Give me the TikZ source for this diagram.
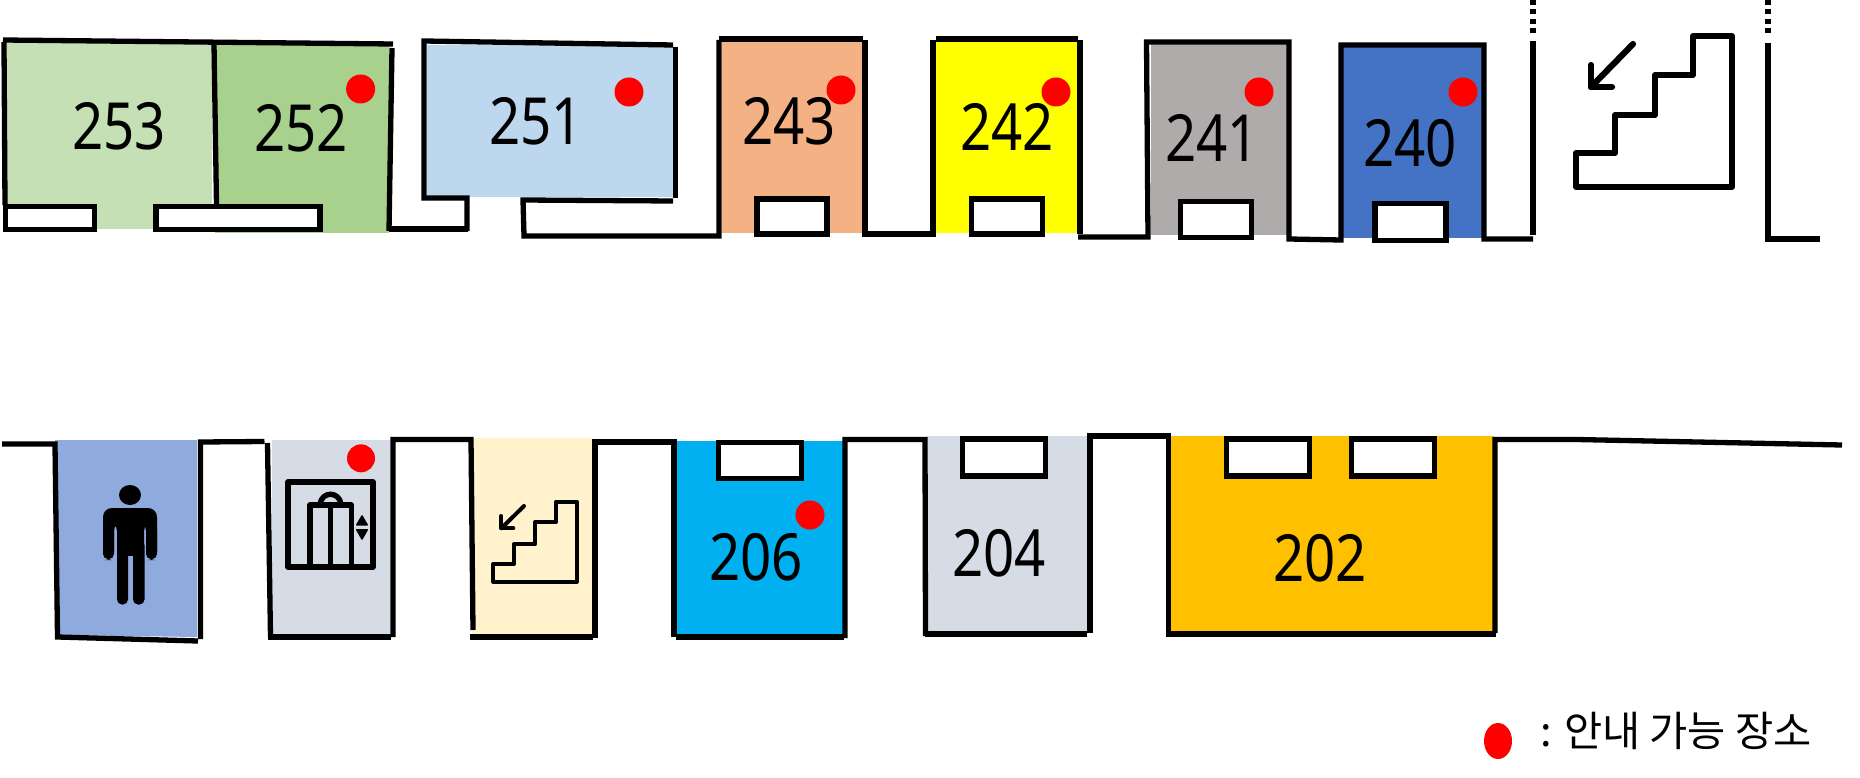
\documentclass[tikz,border=0pt]{standalone}
\usepackage{fontspec}
\setmainfont[FakeStretch=0.84]{Noto Sans}
\newfontfamily\krfont{Noto Sans CJK KR}
\definecolor{c253}{HTML}{C5E0B4}
\definecolor{c252}{HTML}{A9D18E}
\definecolor{c251}{HTML}{BDD7EE}
\definecolor{c243}{HTML}{F4B183}
\definecolor{c242}{HTML}{FFFF00}
\definecolor{c241}{HTML}{AFABAB}
\definecolor{c240}{HTML}{4472C4}
\definecolor{cman}{HTML}{8FAADC}
\definecolor{cgrey}{HTML}{D6DCE5}
\definecolor{cstair}{HTML}{FFF2CC}
\definecolor{c206}{HTML}{00B0F0}
\definecolor{c202}{HTML}{FFC000}
\definecolor{cspot}{HTML}{FF0000}
\tikzset{
  wall/.style={draw=black,line width=5.3pt},
  win/.style={draw=black,fill=white,line width=5.3pt},
  icon/.style={draw=black,line width=6.2pt,line join=round,line cap=round},
  iconsmall/.style={draw=black,line width=4pt,line join=round,line cap=round},
  iconel/.style={draw=black,line width=5.4pt,line join=round},
  room/.style={inner sep=0pt,font=\fontsize{65}{65}\selectfont},
  spot/.style={fill=cspot,draw=none}
}
\begin{document}
\begin{tikzpicture}[x=1pt,y=-1pt]
\useasboundingbox (0,0) rectangle (1860,778);
% room fills
\fill[c253] (3,40) rectangle (212,229);
\fill[c252] (215,42) rectangle (389,233);
\fill[c251] (427,45) rectangle (674,197);
\fill[c243] (722,41) rectangle (862,233);
\fill[c242] (936,41) rectangle (1078,233);
\fill[c241] (1151,44) rectangle (1288,235);
\fill[c240] (1343,47) rectangle (1483,238);
\fill[cman] (55,440) -- (197,440) -- (197,637) -- (58,635) -- cycle;
\fill[cgrey] (272,440) rectangle (390,636);
\fill[cstair] (472,438) rectangle (594,638);
\fill[c206] (676,441) rectangle (843,638);
\fill[cgrey] (927,436) rectangle (1088,634);
\fill[c202] (1170,436) rectangle (1494,633);
% upper walls
\draw[wall] (3,40) -- (393,44);
\draw[wall] (4,42) -- (5,205);
\draw[wall] (214,44) -- (216.5,205);
\draw[wall] (392,48) -- (389,231);
\draw[wall] (389,229) -- (468,229);
\draw[wall] (467,231) -- (467,198) -- (424,198) -- (424,41) -- (673,45);
\draw[wall] (675.5,47) -- (675.5,198);
\draw[wall] (673,201) -- (523,200) -- (524,236) -- (719,236) -- (719,40);
\draw[wall] (719,39) -- (863,39);
\draw[wall] (865,40) -- (865,234) -- (933,234) -- (933,40);
\draw[wall] (936,39) -- (1078,39);
\draw[wall] (1080,40) -- (1080,234);
\draw[wall] (1078,237) -- (1148,237) -- (1146.5,42) -- (1289,42) -- (1289,239) -- (1341,240) -- (1341,45) -- (1484,45) -- (1484,239) -- (1533,239);
\draw[wall] (1533,235) -- (1533,41);
\draw[wall,dash pattern=on 5pt off 4.4pt] (1533,0) -- (1533,35);
\draw[wall,dash pattern=on 5pt off 4.4pt] (1768,0) -- (1768,35);
\draw[wall] (1768,43) -- (1768,239) -- (1820,239);
% upper windows
\draw[win] (5.5,206.5) rectangle (94.5,229.5);
\draw[win] (156,206.5) rectangle (320,229.5);
\draw[win] (757,199) rectangle (827,234);
\draw[win] (971.5,199) rectangle (1042.5,234);
\draw[win] (1180.5,201.5) rectangle (1251.5,237.5);
\draw[win] (1375,203.5) rectangle (1446,240.5);
% lower walls
\draw[wall] (2,444) -- (55,444) -- (57.5,637) -- (198,641);
\draw[wall] (200.5,639) -- (200.5,442) -- (264.5,441.5);
\draw[wall] (267.5,443) -- (270.5,637);
\draw[wall] (267.5,637) -- (391,637);
\draw[wall] (393,637) -- (393,439.5) -- (471,439.5) -- (473,630);
\draw[wall] (470,637) -- (593,637);
\draw[wall] (595,638) -- (595,442) -- (674,442) -- (674,637);
\draw[wall] (676,637) -- (844,637);
\draw[wall] (845,638) -- (845,439.5) -- (925,439.5) -- (925.5,636);
\draw[wall] (925,634) -- (1087,634);
\draw[wall] (1090,633) -- (1090,436) -- (1168.5,436) -- (1168.5,631);
\draw[wall] (1165.5,634) -- (1496,634);
\draw[wall] (1495,633) -- (1495,439.5) -- (1576.5,439.5) -- (1842,445);
% lower windows
\draw[win] (718.5,442.5) rectangle (801.5,478.5);
\draw[win] (962.5,439) rectangle (1045.5,476);
\draw[win] (1226.5,439) rectangle (1309.5,476);
\draw[win] (1351.5,439) rectangle (1434.5,476);
% large stairs
\draw[icon] (1576,153) -- (1615,153) -- (1615,115) -- (1655,115) -- (1655,75) -- (1693,75) -- (1693,36) -- (1732,36) -- (1732,187) -- (1576,187) -- cycle;
\draw[icon] (1633,44) -- (1591,87);
\draw[icon] (1591,65) -- (1591,87) -- (1612,87);
% small stairs
\draw[iconsmall] (493.3,564) -- (514,564) -- (514,544) -- (535.3,544) -- (535.3,522) -- (556,522) -- (556,501.7) -- (576.7,501.7) -- (576.7,581.7) -- (493.3,581.7) -- cycle;
\draw[iconsmall] (524,506) -- (501.3,528.3);
\draw[iconsmall] (501.3,516) -- (501.3,528.3) -- (513.3,528.3);
% man
\fill (130,495) ellipse [x radius=11, y radius=10];
\fill[rounded corners=9pt] (103,560) -- (103,508) -- (157,508) -- (157,560) -- (146,560) -- (146,522) -- (144,522) -- (144,553) -- (117,553) -- (117,522) -- (114,522) -- (114,560) -- cycle;
\fill (117,515) rectangle (144,556);
\fill[rounded corners=5pt] (117,540) rectangle (128,604.5);
\fill[rounded corners=5pt] (133,540) rectangle (144.5,604.5);
\fill[rounded corners=5pt] (103,525) rectangle (114,559);
\fill[rounded corners=5pt] (146,525) rectangle (157,559);
% elevator
\draw[iconel] (288,482) rectangle (373,567);
\draw[iconel] (310,567) -- (310,505) -- (351.3,505) -- (351.3,567);
\draw[iconel] (330.3,505) -- (330.3,567);
\draw[iconel] (320,504) .. controls (322,491) and (339,491) .. (341,504);
\fill[rounded corners=1pt] (362,514.5) -- (368.5,525.6) -- (355.5,525.6) -- cycle;
\fill[rounded corners=1pt] (362,540.5) -- (368.5,529) -- (355.5,529) -- cycle;
% spots
\fill[spot] (360.6,89) circle (14.5);
\fill[spot] (629,92) circle (14.5);
\fill[spot] (841,90) circle (14.5);
\fill[spot] (1056,92) circle (14.5);
\fill[spot] (1259,92) circle (14.5);
\fill[spot] (1463,92) circle (14.5);
\fill[spot] (361,458.3) circle (14);
\fill[spot] (810,515) circle (14.5);
\fill[spot] (1498,741) ellipse [x radius=14, y radius=18];
% labels
\node[room] (r253) at (119,126) {253};
\node[room] (r252) at (301,128) {252};
\node[room] (r251) at (536,121) {251};
\node[room] (r243) at (789,121) {243};
\node[room] (r242) at (1007,127) {242};
\node[room] (r241) at (1212,138) {241};
\node[room] (r240) at (1410,143) {240};
\node[room] (r206) at (756,557) {206};
\node[room] (r204) at (999,553) {204};
\node[room] (r202) at (1320,558) {202};
\node[inner sep=0pt,anchor=west] (legend) at (1540,731) {\krfont\fontsize{41.5}{41.5}\selectfont : 안내 가능 장소};
\end{tikzpicture}
\end{document}
